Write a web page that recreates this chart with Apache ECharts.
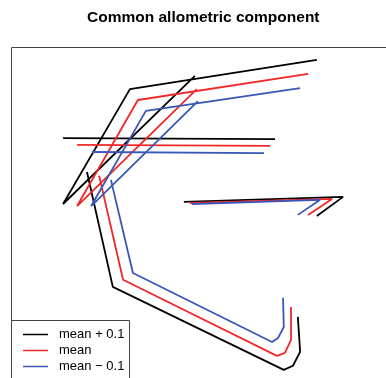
<!DOCTYPE html>
<html>
<head>
<meta charset="utf-8">
<script src="https://cdn.jsdelivr.net/npm/echarts@6/dist/echarts.min.js"></script>
<style>
  html, body { margin: 0; padding: 0; background: #fff; }
  #chart { width: 386px; height: 378px; }
</style>
</head>
<body>
<div id="chart"></div>
<script>
// Shape outlines, [x, y] in shape-space units, one set per level
const seriesNames = ['mean + 0.1', 'mean', 'mean \u2212 0.1'];

// mean + 0.1
const plusUpper  = [[0.305, 0.462], [-0.187, 0.376], [-0.363, 0.038], [-0.016, 0.415]];
const plusBar    = [[-0.363, 0.232], [0.195, 0.229]];
const plusHook   = [[-0.300, 0.132], [-0.232, -0.206], [0.218, -0.450], [0.242, -0.438], [0.261, -0.397], [0.255, -0.294]];
const plusWedge  = [[-0.045, 0.044], [0.374, 0.059], [0.305, 0.003]];

// mean
const meanUpper  = [[0.282, 0.421], [-0.166, 0.344], [-0.326, 0.032], [-0.011, 0.376]];
const meanBar    = [[-0.326, 0.212], [0.182, 0.209]];
const meanHook   = [[-0.268, 0.121], [-0.205, -0.185], [0.200, -0.409], [0.221, -0.400], [0.237, -0.362], [0.237, -0.265]];
const meanWedge  = [[-0.029, 0.041], [0.345, 0.053], [0.282, 0.006]];

// mean - 0.1
const minusUpper = [[0.261, 0.379], [-0.145, 0.312], [-0.289, 0.032], [-0.008, 0.341]];
const minusBar   = [[-0.287, 0.191], [0.166, 0.188]];
const minusHook  = [[-0.237, 0.109], [-0.179, -0.165], [0.187, -0.368], [0.203, -0.356], [0.218, -0.324], [0.216, -0.238]];
const minusWedge = [[-0.024, 0.038], [0.313, 0.050], [0.255, 0.006]];

const levels = [
  { name: seriesNames[0], color: '#000000', parts: [plusUpper, plusBar, plusHook, plusWedge] },
  { name: seriesNames[1], color: '#f02828', parts: [meanUpper, meanBar, meanHook, meanWedge] },
  { name: seriesNames[2], color: '#3a56b6', parts: [minusUpper, minusBar, minusHook, minusWedge] }
];

const series = [];
levels.forEach(function (lv) {
  lv.parts.forEach(function (pts) {
    series.push({
      type: 'line',
      name: lv.name,
      data: pts,
      symbol: 'none',
      silent: true,
      color: lv.color,
      lineStyle: { color: lv.color, width: 1.8 }
    });
  });
});

const chart = echarts.init(document.getElementById('chart'), null, { renderer: 'canvas' });
chart.setOption({
  animation: false,
  backgroundColor: '#ffffff',
  // title is centred over the full plot frame, which runs past the page's right edge
  title: {
    text: 'Common allometric component',
    left: 87,
    top: 10,
    padding: 0,
    textStyle: { fontFamily: 'Liberation Sans', fontSize: 15.5, fontWeight: 'bold', color: '#000' }
  },
  // plotting region fills the page to the right and bottom edges
  grid: { left: 11, top: 47, right: 0, bottom: 0, show: false },
  xAxis: { type: 'value', min: -0.5, max: 0.487, show: false },
  yAxis: { type: 'value', min: -0.474, max: 0.5, show: false },
  graphic: [
    {
      // frame: only its top and left sides fall on the page
      type: 'polyline', z: 5, silent: true,
      shape: { points: [[11.5, 380], [11.5, 47.5], [390, 47.5]] },
      style: { fill: null, stroke: '#444', lineWidth: 1 }
    },
    {
      // legend box
      type: 'rect', left: 11, top: 320, z: 10, silent: true,
      shape: { width: 118, height: 80 },
      style: { fill: '#fff', stroke: '#444', lineWidth: 1 }
    }
  ],
  legend: {
    data: seriesNames,
    orient: 'vertical',
    left: 23,
    top: 327,
    padding: 0,
    z: 20,
    icon: 'rect',
    itemWidth: 25,
    itemHeight: 1.5,
    itemGap: 1,
    selectedMode: false,
    textStyle: { fontFamily: 'Liberation Sans', fontSize: 13, color: '#000', lineHeight: 15, padding: [0, 0, 0, 6] }
  },
  series: series
});
</script>
</body>
</html>
